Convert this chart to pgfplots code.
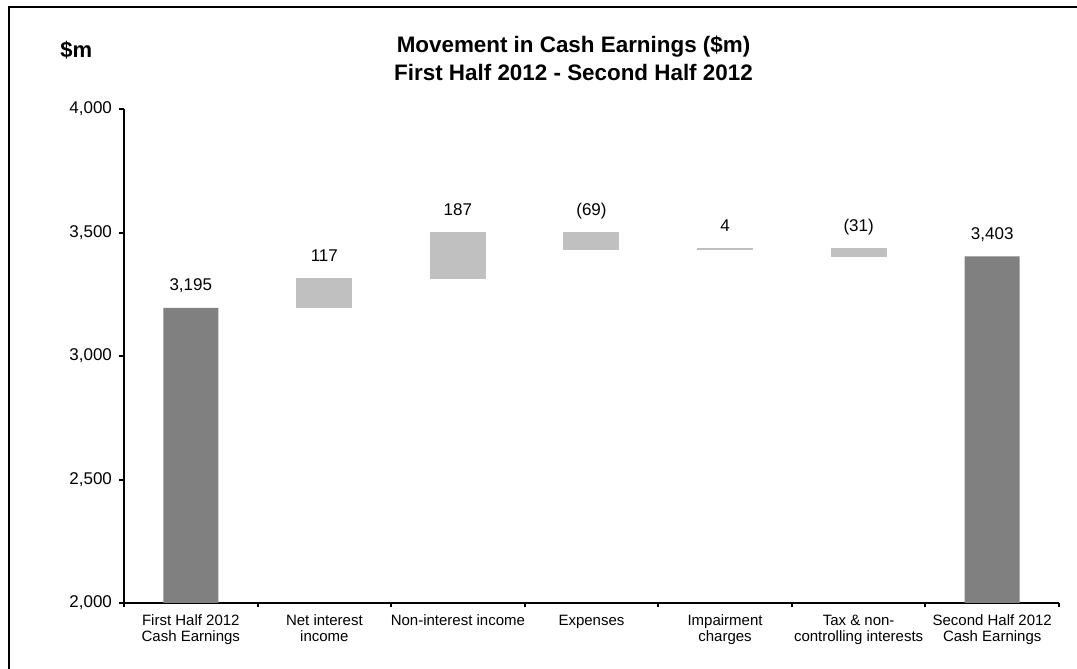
\documentclass[border=0pt]{standalone}
\usepackage{pgfplots}
\pgfplotsset{compat=1.18}
\usepackage{fontspec}
\setmainfont{Liberation Sans}
\definecolor{darkbar}{HTML}{808080}
\definecolor{lightbar}{HTML}{C0C0C0}
\tikzset{vlab/.style={font=\fontsize{8.5}{10}\selectfont, anchor=base, inner sep=0pt, yshift=8.5pt}}
\begin{document}
\begin{tikzpicture}
\useasboundingbox (0,0) rectangle (538.5pt,-334.5pt);
\draw[line width=1pt] (4.5pt,-340pt) -- (4.5pt,-3.5pt) -- (545pt,-3.5pt);
\node[anchor=base west, font=\bfseries\fontsize{11}{13}\selectfont, inner sep=0pt] at (30pt,-28.5pt) {\$m};
\node[font=\bfseries\fontsize{11.2}{13}\selectfont, anchor=base, inner sep=0pt] at (286.75pt,-26.5pt) {Movement in Cash Earnings (\$m)};
\node[font=\bfseries\fontsize{11.2}{13}\selectfont, anchor=base, inner sep=0pt] at (286.75pt,-40pt) {First Half 2012 - Second Half 2012};
\begin{axis}[
  at={(62pt,-301.5pt)}, anchor=south west,
  width=467.5pt, height=247pt, scale only axis,
  ybar stacked, bar width=27.5pt,
  xmin=-0.5, xmax=6.5, ymin=2000, ymax=4000,
  axis x line*=bottom, axis y line*=left,
  axis line style={line width=1pt, -},
  tick style={black, line width=1pt},
  tick align=outside,
  ytick={2000,2500,3000,3500,4000},
  major tick length=2.5pt,
  xtick={0,...,6},
  x tick style={draw=none},
  minor xtick={-0.5,0.5,...,6.5},
  minor x tick style={draw=black, line width=1pt},
  minor tick length=2pt,
  xticklabels={{First Half 2012\\Cash Earnings},{Net interest\\income},{Non-interest income},{Expenses},{Impairment\\charges},{Tax \& non-\\controlling interests},{Second Half 2012\\Cash Earnings}},
  xticklabel style={font=\fontsize{7.5}{8}\selectfont, align=center},
  yticklabel style={font=\fontsize{8.5}{10}\selectfont},
  /pgf/number format/1000 sep={,},
  /pgf/number format/assume math mode=true,
]
\addplot[draw=none, fill=none] coordinates {(0,0) (1,3195) (2,3312) (3,3430) (4,3430) (5,3403) (6,0)};
\addplot[draw=none, fill=darkbar] coordinates {(0,3195) (1,0) (2,0) (3,0) (4,0) (5,0) (6,3403)};
\addplot[draw=lightbar, line width=0.5pt, fill=lightbar] coordinates {(0,0) (1,117) (2,187) (3,69) (4,4) (5,31) (6,0)};
\node[vlab] at (axis cs:0,3195) {3,195};
\node[vlab] at (axis cs:1,3312) {117};
\node[vlab] at (axis cs:2,3499) {187};
\node[vlab] at (axis cs:3,3499) {(69)};
\node[vlab] at (axis cs:4,3434) {4};
\node[vlab] at (axis cs:5,3434) {(31)};
\node[vlab] at (axis cs:6,3403) {3,403};
\end{axis}
\end{tikzpicture}
\end{document}
